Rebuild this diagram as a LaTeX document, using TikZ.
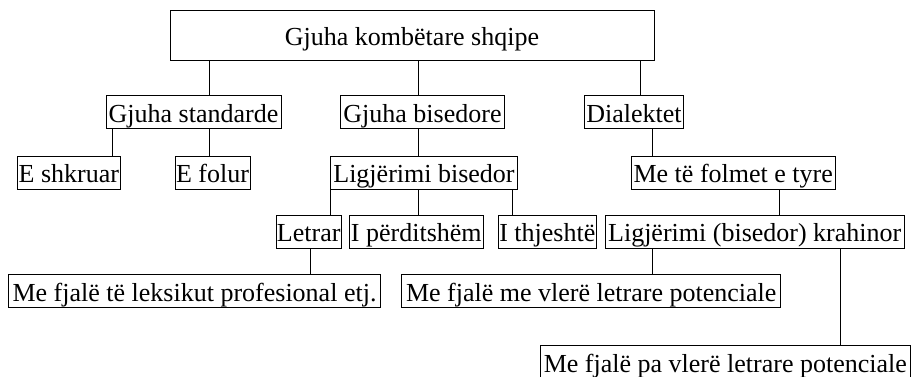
\documentclass[tikz,border=0pt]{standalone}
\usepackage{fontspec}
\setmainfont{Liberation Serif}
\usepackage{tikz}

\begin{document}
\begin{tikzpicture}[x=1pt, y=-1pt, line width=0.9pt,
  every node/.style={font=\fontsize{26}{30}\selectfont},
  box/.style={draw, inner xsep=1pt, inner ysep=1pt, text height=25.5pt, text depth=5.5pt},
  link/.style={draw}]
\useasboundingbox (0,0) rectangle (914,376);
\node[box, minimum width=484pt, minimum height=50pt] (top) at (412,35) {Gjuha kombëtare shqipe};
\node[box, minimum width=175pt] (std) at (193.5,112) {Gjuha standarde};
\node[box, minimum width=163.6pt] (bis) at (422.5,112) {Gjuha bisedore};
\node[box, minimum width=98.6pt] (dia) at (634,112) {Dialektet};
\node[box, minimum width=103.7pt] (shk) at (68.8,172.5) {E shkruar};
\node[box, minimum width=75pt] (fol) at (212.5,172.5) {E folur};
\node[box, minimum width=186.6pt] (lig) at (424,172.5) {Ligjërimi bisedor};
\node[box, minimum width=204.3pt] (tyre) at (733.2,172.5) {Me të folmet e tyre};
\node[box, minimum width=65.3pt] (let) at (308.7,231.5) {Letrar};
\node[box, minimum width=134pt] (per) at (416.3,231.5) {I përditshëm};
\node[box, minimum width=98.7pt] (thj) at (547.3,231.5) {I thjeshtë};
\node[box, minimum width=299.3pt] (kra) at (754.7,231.5) {Ligjërimi (bisedor) krahinor};
\node[box, minimum width=372.4pt] (lek) at (194.5,291) {Me fjalë të leksikut profesional etj.};
\node[box, minimum width=379pt] (vle) at (591.2,291) {Me fjalë me vlerë letrare potenciale};
\node[box, minimum width=370.7pt] (pav) at (725.3,362) {Me fjalë pa vlerë letrare potenciale};
% parent/child/x of the vertical connector
\foreach \p/\c/\x in {top/std/209.3, top/bis/418.3, top/dia/640.7,
    std/shk/112, std/fol/209.3, bis/lig/418.3, dia/tyre/652.3,
    lig/let/330.7, lig/per/418.3, lig/thj/512.3, tyre/kra/779.3,
    let/lek/310.7, kra/vle/652.3, kra/pav/840}
  \draw[link] (\p.south -| \x,0) -- (\c.north -| \x,0);
\end{tikzpicture}
\end{document}
